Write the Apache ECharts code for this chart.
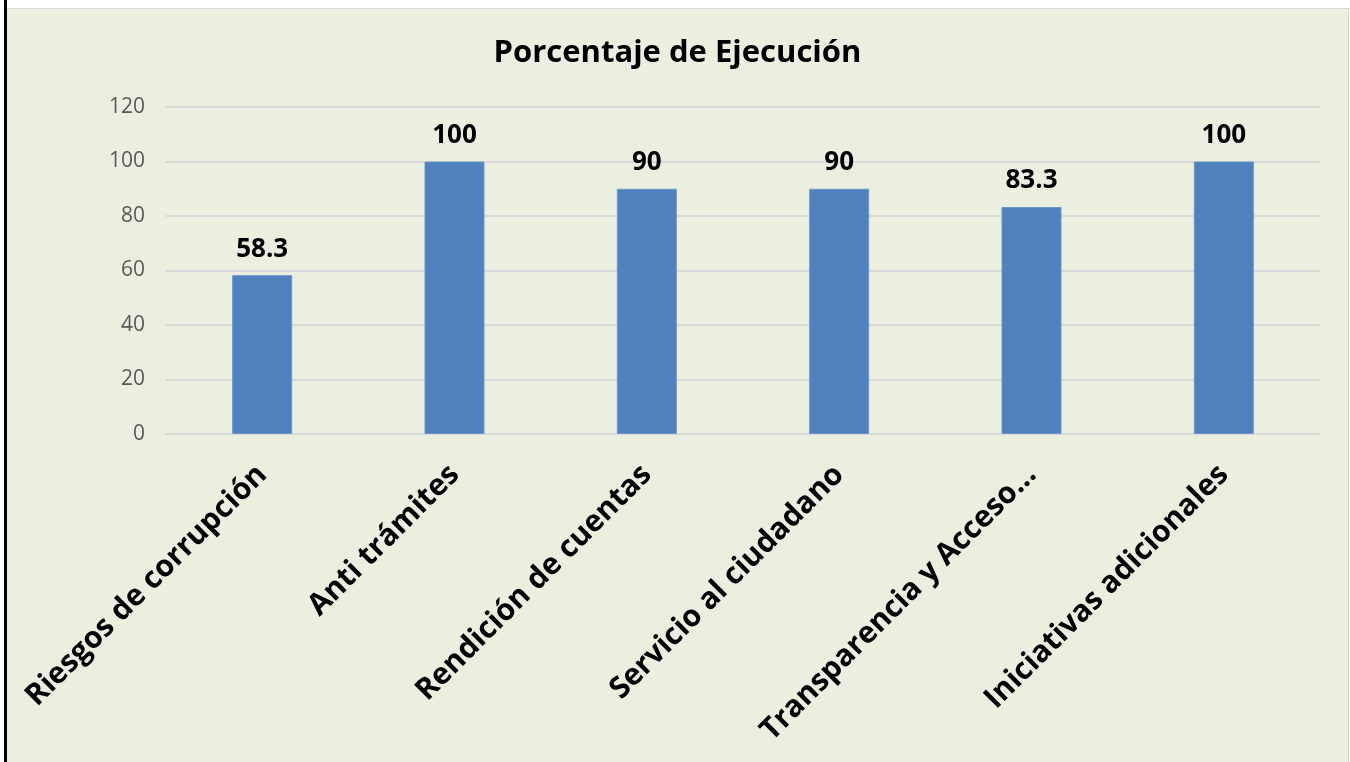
<!DOCTYPE html>
<html>
<head>
<meta charset="utf-8">
<script src="https://cdn.jsdelivr.net/npm/echarts@6/dist/echarts.min.js"></script>
<style>
  html, body { margin: 0; padding: 0; background: #fff; }
  #edge { position: absolute; left: 4px; top: 0; width: 3px; height: 762px; background: #000; }
  #chart { position: absolute; left: 7px; top: 8px; width: 1341px; height: 754px;
           background: #EBEFDF; border-top: 1px solid #D9D9D9; border-right: 1px solid #D9D9D9; }
</style>
</head>
<body>
<div id="edge"></div>
<div id="chart"></div>
<script>
  // categorias y valores
  var categories = ['Riesgos de corrupción', 'Anti trámites', 'Rendición de cuentas',
                    'Servicio al ciudadano', 'Transparencia y Acceso...', 'Iniciativas adicionales'];
  var values = [58.3, 100, 90, 90, 83.3, 100];
  var yTicks = [0, 20, 40, 60, 80, 100, 120];

  var chart = echarts.init(document.getElementById('chart'));
  chart.setOption({
    animation: false,
    title: {
      text: 'Porcentaje de Ejecución',
      left: 'center',
      top: 24,
      textStyle: { fontFamily: 'Open Sans', fontWeight: 'bold', fontSize: 31, color: '#000' }
    },
    grid: { left: 159, right: 28, top: 98, bottom: 329 },
    xAxis: {
      type: 'category',
      data: categories,
      axisLine: { lineStyle: { color: '#D9D9D9', width: 2 } },
      axisTick: { show: false },
      axisLabel: {
        interval: 0,
        rotate: 45,
        margin: 36,
        fontFamily: 'Open Sans',
        fontWeight: 'bold',
        fontSize: 30,
        color: '#000'
      }
    },
    yAxis: {
      type: 'value',
      min: yTicks[0],
      max: yTicks[yTicks.length - 1],
      interval: 20,
      axisLine: { show: false },
      axisTick: { show: false },
      splitLine: { lineStyle: { color: '#D9D9D9', width: 2 } },
      axisLabel: { fontFamily: 'Open Sans', fontSize: 21, color: '#595959', margin: 21 }
    },
    series: [{
      type: 'bar',
      data: values,
      barWidth: 60,
      itemStyle: { color: '#4F81BD', borderColor: '#6C96CB', borderWidth: 1 },
      label: {
        show: true,
        position: 'top',
        distance: 13,
        fontFamily: 'Open Sans',
        fontWeight: 'bold',
        fontSize: 26,
        color: '#000'
      }
    }]
  });
</script>
</body>
</html>
